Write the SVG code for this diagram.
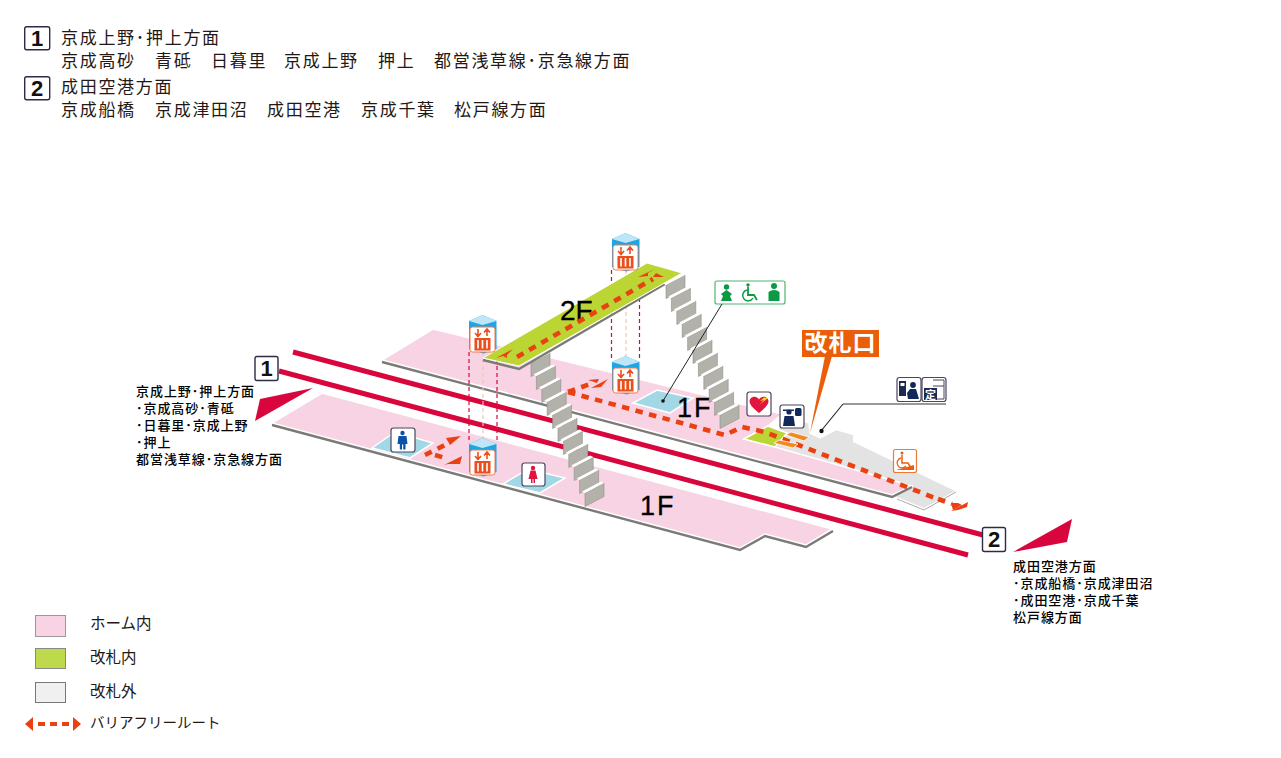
<svg xmlns="http://www.w3.org/2000/svg" xmlns:xlink="http://www.w3.org/1999/xlink" width="1281" height="758" viewBox="0 0 1281 758">
<style>
text{font-family:"Noto Sans CJK JP","Noto Sans",sans-serif;fill:#231815}
.hd{font-size:17px;letter-spacing:1.7px}
.sd{font-size:13px;font-weight:500;letter-spacing:.95px;fill:#000}
.lg{font-size:15.5px}
.fl{font-family:"Liberation Sans",sans-serif;font-size:27px;fill:#000;stroke:#000;stroke-width:.3}
.bn{font-family:"Liberation Sans",sans-serif;font-weight:700;font-size:22px;text-anchor:middle;fill:#111}
.badge{fill:#fff;stroke:#2d2a4a;stroke-width:1.4}
.pink{fill:#f8d3e4;stroke:#fff;stroke-width:1.5}
.pad{fill:#a2d8e6;stroke:#fff;stroke-width:1.5}
.edge{fill:none;stroke:#7a7a76;stroke-width:2.4}
.rail{stroke:#d8063d;stroke-width:5;fill:none}
.dashR{stroke:#d8063d;stroke-width:1.2;stroke-dasharray:4 3;fill:none}
.dashP{stroke:#f2c4b8;stroke-width:1.2;stroke-dasharray:4 3;fill:none}
.route{stroke:#ea4112;stroke-width:4.6;stroke-dasharray:7.500 6.500;fill:none}
.rh{fill:#ea4112}
.ic{fill:#fff;stroke:#4a4560;stroke-width:1.2}
.navy{fill:#10295a}
.lead{stroke:#222;stroke-width:1;fill:none}
</style>
<defs>
<g id="step">
<polygon points="0,0 19,-10 19,3.500 0,13.500" fill="#b2b2aa" stroke="#8e8e88" stroke-width=".6"/>
<polygon points="-3,-1.600 16,-11.600 19,-10 0,0" fill="#fff"/>
</g>
<g id="stairs">
<use xlink:href="#step" x="0" y="0"/><use xlink:href="#step" x="5.4" y="13"/><use xlink:href="#step" x="10.8" y="26"/><use xlink:href="#step" x="16.2" y="39"/><use xlink:href="#step" x="21.6" y="52"/><use xlink:href="#step" x="27" y="65"/><use xlink:href="#step" x="32.4" y="78"/><use xlink:href="#step" x="37.8" y="91"/><use xlink:href="#step" x="43.2" y="104"/><use xlink:href="#step" x="48.6" y="117"/><use xlink:href="#step" x="54" y="130"/>
</g>
<g id="ev">
<polygon points="-13.500,-31 0,-37 14,-31 14,-3 1,1.500 -13.500,-3" fill="#1fa5e3"/>
<polygon points="-13.500,-31 0,-37 14,-31 0,-27" fill="#bfe6f8"/>
<rect x="-12.500" y="-25" width="25" height="25" rx="2.500" fill="#fff" stroke="#ee7a4d" stroke-width="1"/>
<rect x="-8" y="-14" width="16" height="12.500" fill="#ea4f1d"/>
<path d="M-4.500-12V-3.500M0-12V-3.500M4.500-12V-3.500" stroke="#fff" stroke-width="1.600"/>
<path d="M-4.500-23V-16M-7.500-19L-4.500-15.500L-1.500-19M4.500-16V-22.500M1.500-19.500L4.500-23L7.500-19.500" stroke="#ea4f1d" stroke-width="1.600" fill="none"/>
</g>
</defs>
<rect width="1281" height="758" fill="#fff"/>

<g id="legend-top">
<g id="top-1"><rect class="badge" x="24.700" y="26.700" width="25" height="23" rx="2"/><text class="bn" x="37" y="46">1</text>
<text class="hd" x="61" y="44">京成上野･押上方面</text>
<text class="hd" x="61" y="67">京成高砂</text><text class="hd" x="155" y="67">青砥</text><text class="hd" x="211" y="67">日暮里</text><text class="hd" x="284" y="67">京成上野</text><text class="hd" x="378" y="67">押上</text><text class="hd" x="434" y="67">都営浅草線･京急線方面</text></g>
<g id="top-2"><rect class="badge" x="24.700" y="76.700" width="25" height="23" rx="2"/><text class="bn" x="37" y="96">2</text>
<text class="hd" x="61" y="93">成田空港方面</text>
<text class="hd" x="61" y="116">京成船橋</text><text class="hd" x="155" y="116">京成津田沼</text><text class="hd" x="267" y="116">成田空港</text><text class="hd" x="361" y="116">京成千葉</text><text class="hd" x="454" y="116">松戸線方面</text></g>
</g>

<g id="platform-upper">
<polygon points="897,497 924,508 955,491 853,442 853,435 835,430 820,438 810,433 809,423 782,414 775,447" fill="#e3e3e3"/>
<polyline points="897,499 924,510 956,492" fill="none" stroke="#aaa" stroke-width="1"/>
<polygon class="pink" points="382,360 433,329 782,414 768,426 744,439 775,447 912,486 892,495"/>
<polyline class="edge" points="382,362 892,497 912,487"/>
<polyline points="782,414 809,423 810,433 820,438 835,430" fill="none" stroke="#fff" stroke-width="1.500"/>
<polygon points="744,439 768,426 787,433 775,447" fill="#bad534" stroke="#fff" stroke-width="1.500"/>
<polygon class="pad" points="633,403 657,390 693,398 670,413"/>
<text class="fl" x="677" y="417" letter-spacing="2">1F</text>
</g>

<g id="platform-lower">
<polygon class="pink" points="272,423 322,393 832,529 806,545 765,534 740,548"/>
<polyline class="edge" points="272,425 740,550 765,536 806,547 833,531"/>
<polygon class="pad" points="372,448 395,432 433,443 410,458"/>
<polygon class="pad" points="503,484 528,469 565,478 540,493"/>
<text class="fl" x="640" y="515" letter-spacing="2">1F</text>
</g>

<g id="rails">
<line class="rail" x1="293" y1="352" x2="983" y2="535"/>
<line class="rail" x1="279" y1="371" x2="968" y2="555"/>
<polygon points="313,388 260,399 255,421" fill="#d8063d"/>
<polygon points="1072,519 1013,552 1067,542" fill="#d8063d"/>
</g>

<g id="connectors">
<line class="dashR" x1="469" y1="352" x2="469" y2="440"/><line class="dashR" x1="497" y1="352" x2="497" y2="440"/><line class="dashP" x1="483" y1="352" x2="483" y2="440"/>
<line class="dashR" x1="611.500" y1="270" x2="611.500" y2="358"/><line class="dashR" x1="639.500" y1="270" x2="639.500" y2="358"/><line class="dashP" x1="626" y1="270" x2="626" y2="358"/>
</g>

<g id="stairs-1"><use xlink:href="#stairs" x="531" y="363"/></g>

<g id="bridge-2F">
<polyline class="edge" points="483,360 519,369 665,284"/>
<polygon points="483,358 647,263 682,273 519,366" fill="#bad534" stroke="#fff" stroke-width="1"/>
<text class="fl" x="560" y="320" style="font-size:28px">2F</text>
</g>

<g id="stairs-2"><use xlink:href="#stairs" x="666" y="285"/></g>

<g id="routes">
<polyline class="route" points="517,357 653,279"/>
<polygon class="rh" points="496,358 513,349 507,355 507,358 503,356"/>
<polygon class="rh" points="638,277 655,269 648,273 648,276"/>
<polygon class="rh" points="653,277 656,273 664,277"/>
<polyline class="route" points="568,392 725,435 742,427 765,432 935,498"/>
<polyline class="route" points="938,499 952,504"/>
<polygon class="rh" points="951,511 968,502 967,507 958,510"/>
<polygon class="rh" points="951,503 958,503 962,505 953,510"/>
<polyline class="route" points="568,392 590,384"/>
<polygon class="rh" points="588,380 597,383 599,379"/>
<polygon class="rh" points="591,388 608,379 601,387"/>
<polyline class="route" points="425,455 447,444"/>
<polyline class="route" points="435,455 445,458"/>
<polygon class="rh" points="446,438 461,436 450,445"/>
<polygon class="rh" points="444,465 462,456 460,464 448,464"/>
<polygon points="786,435 791,432 809,437 804,441" fill="#f08a1d" stroke="#fff" stroke-width=".8"/>
<polygon points="774,443 779,440 798,444 793,448" fill="#f08a1d" stroke="#fff" stroke-width=".8"/>
</g>

<g id="ev-1"><use xlink:href="#ev" x="482.500" y="352"/></g>
<g id="ev-2"><use xlink:href="#ev" x="625.500" y="270"/></g>
<g id="ev-3"><use xlink:href="#ev" x="625.500" y="393"/></g>
<g id="ev-4"><use xlink:href="#ev" x="482.500" y="475"/></g>

<g id="toilet-men">
<rect class="ic" x="391" y="428" width="24" height="24" rx="2.500"/>
<circle cx="402.500" cy="433" r="2.200" fill="#0b52a8"/>
<path d="M398.500,436H406.500L407.500,444H405.500V449.500H403.200V444.500H402V449.500H399.800V444H397.500Z" fill="#0b52a8"/>
</g>
<g id="toilet-women">
<rect class="ic" x="522" y="463" width="23" height="23" rx="2.500"/>
<circle cx="533" cy="468" r="2.200" fill="#e0143c"/>
<path d="M530.500,470.500H535.500L537.500,479H535V483H533.500V479H532.500V483H531V479H528.500Z" fill="#e0143c"/>
</g>

<g id="facilities-green">
<rect x="715" y="281" width="70" height="23" rx="2" fill="#fff" stroke="#4fb56e" stroke-width="1.200"/>
<circle cx="726.500" cy="287" r="2.700" fill="#0a9a44"/><path d="M721,294L726.500,290L732,294L730,296L732,301H721L723,296Z" fill="#0a9a44"/>
<circle cx="748" cy="285" r="1.700" fill="#0a9a44"/><path d="M748,287V295H754L757,300" stroke="#0a9a44" stroke-width="1.800" fill="none"/><path d="M747,290A5.500,5.500,0,1,0,753,298" stroke="#0a9a44" stroke-width="1.500" fill="none"/>
<circle cx="774" cy="286" r="3" fill="#0a9a44"/><path d="M768.500,292Q774,288 779.500,292V301H768.500Z" fill="#0a9a44"/>
</g>
<g id="aed">
<rect class="ic" x="747" y="392" width="24" height="24" rx="2.500"/>
<path d="M759,413C750,406 748,402 750.500,398.500C753,396 757,396 759,399.500C761,396 765,396 767.500,398.500C770,402 768,406 759,413Z" fill="#e0143c"/>
<polygon points="769,393 760,401 764,400 759,405 768,398 764,398" fill="#f5d91e"/>
</g>
<g id="staff">
<rect class="ic" x="780" y="405" width="24" height="23" rx="2.500"/>
<circle cx="789" cy="412" r="2.600" class="navy"/><path d="M783,409.500H794V411H783Z" class="navy"/><path d="M783,426L784.500,416H793.500L795,426Z" class="navy"/><rect x="795" y="408" width="6.500" height="8" rx="1.500" class="navy"/>
</g>
<g id="ticket-office">
<rect class="ic" x="897" y="377.500" width="24" height="24" rx="2.500"/>
<rect x="899" y="381" width="7" height="15" fill="#1d2a50"/><rect x="900.500" y="383" width="4" height="3" fill="#fff"/>
<circle cx="913" cy="385" r="2.900" class="navy"/><path d="M907,393L910,389H916L919,399H908Z" class="navy"/>
<rect class="ic" x="922" y="377.500" width="24" height="24" rx="2.500"/>
<path d="M933,380H944V399H933M933,386H944" fill="none" stroke="#4a4560" stroke-width="1"/>
<rect x="924" y="388" width="13" height="12" fill="#1d2a50"/>
<text x="930.500" y="398.500" text-anchor="middle" font-size="11" font-weight="700" style="fill:#fff">定</text>
</g>
<g id="wheelchair">
<rect x="893.500" y="449.500" width="23" height="23" rx="2" fill="#fff" stroke="#ee7a3a" stroke-width="1.200"/>
<circle cx="902" cy="453" r="1.500" fill="#ea5e14"/><path d="M902,455V463H908L910.500,467" stroke="#ea5e14" stroke-width="1.500" fill="none"/><path d="M901,458A5,5,0,1,0,906,466" stroke="#ea5e14" stroke-width="1.300" fill="none"/>
<polygon points="896,470 914,470 914,465" fill="#ea5e14"/>
</g>

<g id="gate-label">
<polygon points="825,356 832,356 810,433" fill="#ea5e0a"/>
<rect x="802" y="330" width="77" height="27" fill="#ea5e0a"/>
<text x="840.500" y="351" text-anchor="middle" font-size="23" font-weight="700" letter-spacing="1" style="fill:#fff">改札口</text>
</g>

<g id="leaders">
<line class="lead" x1="722" y1="304" x2="663" y2="401"/><circle cx="663" cy="401" r="1.800" fill="#111"/>
<line x1="843" y1="404" x2="946" y2="404" stroke="#999" stroke-width="1.800"/>
<line x1="843" y1="404" x2="821" y2="431" stroke="#222" stroke-width="1.100"/><circle cx="821.500" cy="431" r="2.200" fill="#111"/>
</g>

<g id="dir-1">
<rect class="badge" x="255" y="356.500" width="23" height="24" rx="2"/><text class="bn" x="266.500" y="376">1</text>
<text class="sd" x="136" y="396">京成上野･押上方面</text>
<text class="sd" x="136" y="413">･京成高砂･青砥</text>
<text class="sd" x="136" y="430">･日暮里･京成上野</text>
<text class="sd" x="136" y="447">･押上</text>
<text class="sd" x="136" y="464">都営浅草線･京急線方面</text>
</g>
<g id="dir-2">
<rect class="badge" x="982.500" y="527.500" width="23" height="24" rx="2"/><text class="bn" x="994" y="547">2</text>
<text class="sd" x="1013" y="571">成田空港方面</text>
<text class="sd" x="1013" y="588">･京成船橋･京成津田沼</text>
<text class="sd" x="1013" y="605">･成田空港･京成千葉</text>
<text class="sd" x="1013" y="622">松戸線方面</text>
</g>

<g id="legend">
<g id="lg-pink"><rect x="35.500" y="615.500" width="30" height="21" fill="#f8d3e4" stroke="#999" stroke-width="1"/><text class="lg" x="90" y="629">ホーム内</text></g>
<g id="lg-green"><rect x="35.500" y="648.500" width="30" height="20" fill="#bfd94c" stroke="#888" stroke-width="1"/><text class="lg" x="90" y="663">改札内</text></g>
<g id="lg-gray"><rect x="35.500" y="682.500" width="30" height="20" fill="#f0f0f0" stroke="#777" stroke-width="1"/><text class="lg" x="90" y="697">改札外</text></g>
<g id="lg-route">
<polygon class="rh" points="25,724 33,717 33,731"/><polygon class="rh" points="81,724 73,717 73,731"/>
<line x1="38" y1="724" x2="69" y2="724" stroke="#ea4112" stroke-width="4" stroke-dasharray="7 5"/>
<text class="lg" x="90" y="728" style="font-size:14.500px">バリアフリールート</text>
</g>
</g>
</svg>
